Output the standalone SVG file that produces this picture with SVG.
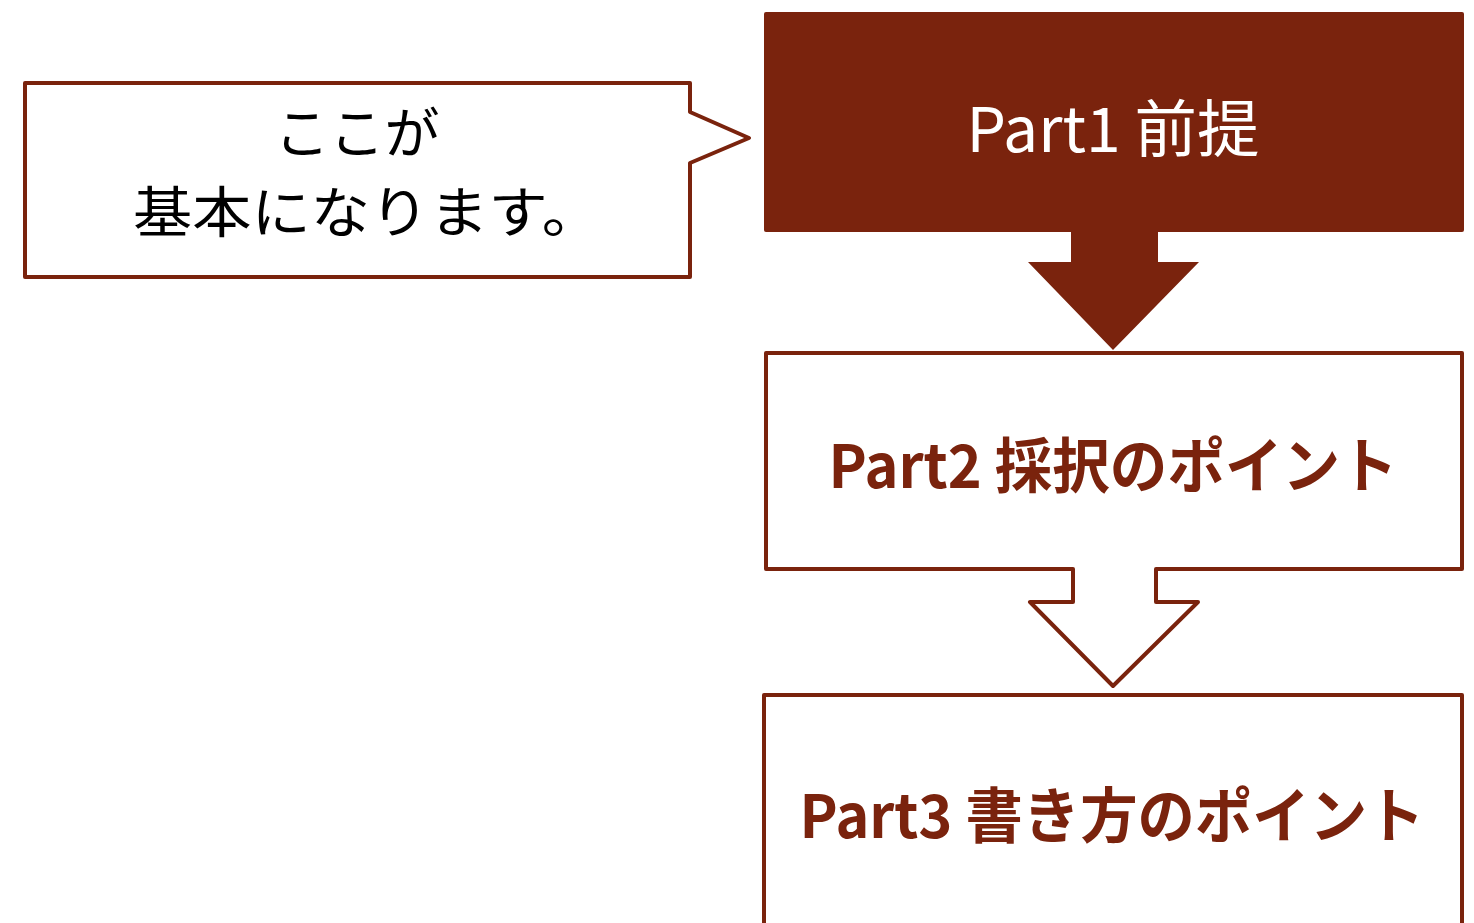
<svg xmlns="http://www.w3.org/2000/svg" width="1474" height="923" viewBox="0 0 1474 923">
<style>
.stroke{fill:#fff;stroke:#7A230D;stroke-width:4;stroke-linejoin:round}
.fill{fill:#7A230D}
.t{font-family:"Noto Sans CJK JP","Liberation Sans",sans-serif;text-anchor:middle}
.w{fill:#fff;font-size:62px}
.b{fill:#7A230D;font-size:60px;font-weight:bold}
.k{fill:#000;font-size:55px}
</style>
<rect width="1474" height="923" fill="#fff"/>
<g id="callout">
<path class="stroke" d="M25,83 H690 V112 L749,138 L690,163 V277 H25 Z"/>
<text class="t k" x="357" y="153">ここが</text>
<text class="t k" x="367" y="232" textLength="468" lengthAdjust="spacingAndGlyphs">基本になります。</text>
</g>
<g id="part1">
<rect class="fill" x="764" y="12" width="700" height="220" rx="2"/>
<text class="t w" x="1113" y="152" textLength="293" lengthAdjust="spacingAndGlyphs">Part1 前提</text>
</g>
<g id="part2">
<path class="stroke" d="M766,353 H1462 V569 H1156 V602 H1198 L1113,686 L1030,602 H1073 V569 H766 Z"/>
<text class="t b" x="1113" y="488" textLength="569" lengthAdjust="spacingAndGlyphs">Part2 採択のポイント</text>
</g>
<g id="part3">
<path class="stroke" d="M764,930 V695 H1462 V930"/>
<text class="t b" x="1112" y="838" textLength="625" lengthAdjust="spacingAndGlyphs">Part3 書き方のポイント</text>
</g>
<g id="connectors">
<path class="fill" d="M1071,231 H1158 V262 H1199 L1113,350 L1028,262 H1071 Z"/>
</g>
</svg>
